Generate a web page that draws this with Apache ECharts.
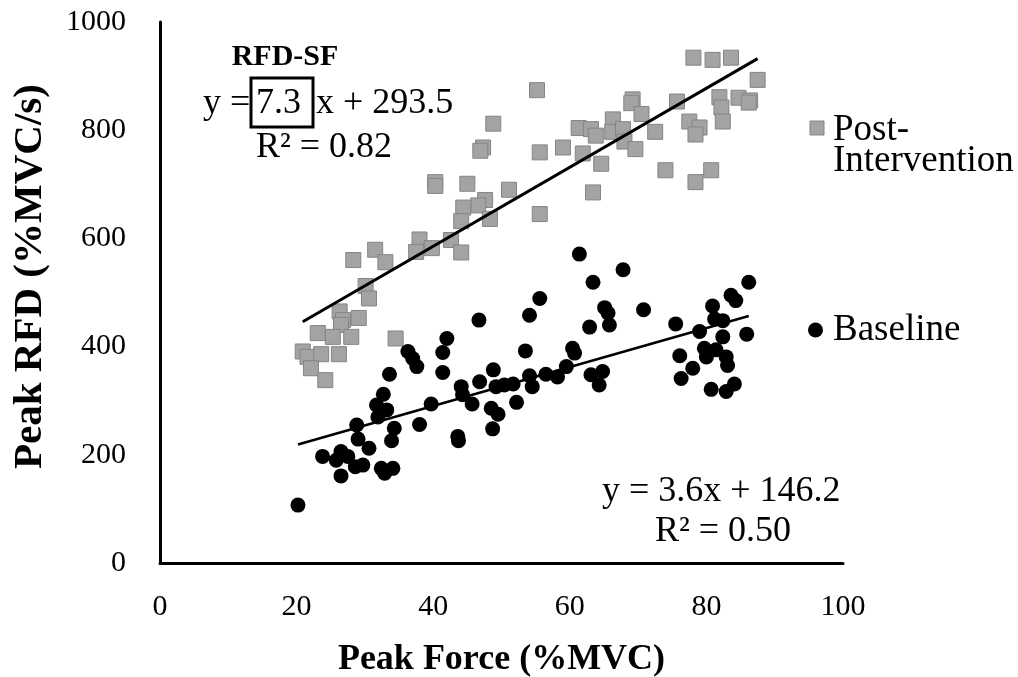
<!DOCTYPE html>
<html>
<head>
<meta charset="utf-8">
<title>Peak RFD vs Peak Force</title>
<script src="https://cdn.jsdelivr.net/npm/echarts@6/dist/echarts.min.js"></script>
<style>
  html, body { margin: 0; padding: 0; background: #fff; }
  #chart { width: 1018px; height: 677px; }
</style>
</head>
<body>
<div id="chart"></div>
<script>
// Peak force (%MVC) and peak RFD (%MVC/s) per trial
const postX = [55.2, 48.8, 47.3, 46.9, 55.6, 59.0, 40.3, 40.3, 45.0, 51.1, 47.6, 46.6, 44.4, 48.3, 44.1, 55.6,
  38.0, 37.5, 39.8, 42.6, 44.1, 31.5, 28.3, 33.0, 30.1, 30.6, 26.3, 26.8, 26.5, 29.1, 23.1, 25.3, 28.0, 34.5,
  20.9, 21.6, 23.6, 26.2, 22.1, 24.2,
  78.1, 80.9, 83.6, 87.5, 69.2, 69.0, 70.5, 66.3, 61.3, 63.1, 63.8, 66.2, 67.8, 68.0, 69.6, 72.5, 75.7, 81.9,
  82.2, 82.4, 84.7, 86.4, 86.2, 77.5, 79.0, 78.4, 61.9, 64.6, 74.0, 80.7, 78.4, 63.4];
const postY = [874, 812, 768, 762, 759, 768, 704, 697, 701, 690, 671, 661, 657, 636, 632, 645,
  598, 575, 582, 597, 574, 579, 560, 556, 512, 489, 465, 449, 440, 453, 425, 418, 418, 415,
  391, 381, 386, 386, 360, 338,
  934, 930, 934, 893, 857, 850, 830, 820, 804, 802, 790, 797, 802, 779, 765, 797, 853, 861,
  842, 816, 860, 855, 851, 816, 805, 792, 757, 738, 726, 726, 704, 685];

const baseX = [55.6, 54.1, 46.7, 42.0, 41.4, 53.5, 36.3, 37.0, 37.6, 41.4, 33.6, 48.8, 46.8, 44.1, 44.3, 45.7,
  49.2, 50.4, 51.7, 54.1, 54.5, 56.5, 58.2, 52.2, 48.5, 49.5, 48.7, 39.7, 32.7, 31.7, 33.2, 31.9, 38.0, 34.3,
  33.9, 28.8, 29.0, 30.6, 43.6, 43.7, 23.8, 26.5, 27.5, 25.8, 28.6, 29.7, 26.5, 32.4, 32.9, 34.1, 20.2,
  61.4, 67.8, 63.4, 86.2, 83.6, 84.3, 80.9, 65.1, 65.6, 70.8, 65.8, 62.9, 75.5, 81.2, 82.4, 79.0, 82.4, 85.9,
  60.4, 60.7, 59.5, 76.1, 79.7, 80.0, 81.4, 82.9, 83.1, 78.0, 63.1, 64.8, 64.3, 76.3, 80.7, 82.9, 84.1];
const baseY = [489, 458, 449, 415, 389, 392, 391, 378, 363, 352, 349, 357, 335, 326, 311, 294,
  326, 329, 331, 346, 326, 349, 344, 297, 286, 275, 248, 294, 312, 292, 283, 270, 256, 249,
  226, 255, 229, 212, 234, 226, 197, 206, 197, 190, 178, 181, 161, 175, 166, 175, 107,
  571, 542, 519, 519, 495, 485, 475, 472, 462, 468, 440, 436, 442, 451, 448, 428, 418, 423,
  397, 388, 363, 383, 397, 381, 394, 381, 365, 360, 348, 354, 329, 341, 321, 317, 331];

// Linear trendlines: slope, intercept and the x range they span
const postFit = { slope: 7.3, intercept: 293.5, r2: '0.82', from: 20.9, to: 87.5 };
const baseFit = { slope: 3.6, intercept: 146.2, r2: '0.50', from: 20.2, to: 86.2 };

const xTickValues = [0, 20, 40, 60, 80, 100];
const yTickValues = [0, 200, 400, 600, 800, 1000];

const seriesNames = ['Post-Intervention', 'Baseline'];

function zip(xs, ys) { return xs.map((x, i) => [x, ys[i]]); }
function fitLine(f) {
  return [[f.from, f.slope * f.from + f.intercept], [f.to, f.slope * f.to + f.intercept]];
}

const SERIF = '"Liberation Serif", "Times New Roman", serif';
const chart = echarts.init(document.getElementById('chart'), null, { renderer: 'canvas' });

function label(x, y, text, font, extra) {
  return { type: 'text', x: x, y: y,
    style: Object.assign({ text: text, font: font, fill: '#000', verticalAlign: 'middle' }, extra || {}) };
}
const EQ_FONT = '36px ' + SERIF;
const LEGEND_FONT = '37px ' + SERIF;

chart.setOption({
  animation: false,
  backgroundColor: '#fff',
  grid: { left: 160, right: 175, top: 22, bottom: 114, containLabel: false, outerBoundsMode: 'none' },
  xAxis: {
    type: 'value', min: xTickValues[0], max: xTickValues[xTickValues.length - 1], interval: 20,
    name: 'Peak Force (%MVC)', nameLocation: 'middle', nameGap: 79,
    nameTextStyle: { fontFamily: SERIF, fontWeight: 'bold', fontSize: 36, color: '#000' },
    axisLine: { show: true, lineStyle: { color: '#000', width: 3 } },
    axisTick: { show: false }, splitLine: { show: false },
    axisLabel: { fontFamily: SERIF, fontSize: 30, color: '#000', margin: 29, formatter: v => String(v) }
  },
  yAxis: {
    type: 'value', min: yTickValues[0], max: yTickValues[yTickValues.length - 1], interval: 200,
    name: 'Peak RFD (%MVC/s)', nameLocation: 'middle', nameGap: 109, nameRotate: 90,
    nameTextStyle: { fontFamily: SERIF, fontWeight: 'bold', fontSize: 41, color: '#000', padding: [0, 0, 0, 32] },
    axisLine: { show: true, lineStyle: { color: '#000', width: 3 } },
    axisTick: { show: false }, splitLine: { show: false },
    axisLabel: { fontFamily: SERIF, fontSize: 30, color: '#000', margin: 34, formatter: v => String(v) }
  },
  series: [
    {
      name: seriesNames[0], type: 'scatter', symbol: 'rect', symbolSize: 15,
      itemStyle: { color: '#a3a3a3', borderColor: '#858585', borderWidth: 1, opacity: 1 },
      data: zip(postX, postY), z: 2
    },
    {
      name: seriesNames[1], type: 'scatter', symbol: 'circle', symbolSize: 15,
      itemStyle: { color: '#000', opacity: 1 },
      data: zip(baseX, baseY), z: 2
    },
    {
      name: 'Post-Intervention trend', type: 'line', data: fitLine(postFit), showSymbol: false,
      lineStyle: { color: '#000', width: 3 }, z: 3, silent: true
    },
    {
      name: 'Baseline trend', type: 'line', data: fitLine(baseFit), showSymbol: false,
      lineStyle: { color: '#000', width: 2.5 }, z: 3, silent: true
    }
  ],
  graphic: [
    // Post-intervention fit annotation
    label(285, 57, 'RFD-SF', 'bold 30px ' + SERIF, { align: 'center' }),
    label(203, 104, 'y =', EQ_FONT),
    label(256, 104, String(postFit.slope), EQ_FONT),
    label(316, 104, 'x + ' + postFit.intercept, EQ_FONT),
    { type: 'rect', shape: { x: 251, y: 78, width: 62, height: 49 }, style: { fill: 'none', stroke: '#000', lineWidth: 3 } },
    label(256, 148, 'R² = ' + postFit.r2, EQ_FONT),
    // Baseline fit annotation
    label(602, 492, 'y = ' + baseFit.slope + 'x + ' + baseFit.intercept, EQ_FONT),
    label(655, 532, 'R² = ' + baseFit.r2, EQ_FONT),
    // Legend
    { type: 'rect', shape: { x: 810, y: 121, width: 14, height: 14 }, style: { fill: '#a3a3a3', stroke: '#858585', lineWidth: 1 } },
    label(833, 130, 'Post-', LEGEND_FONT),
    label(833, 161, 'Intervention', LEGEND_FONT),
    { type: 'circle', shape: { cx: 815.5, cy: 330, r: 7.5 }, style: { fill: '#000' } },
    label(833, 330, seriesNames[1], LEGEND_FONT)
  ]
});
</script>
</body>
</html>
